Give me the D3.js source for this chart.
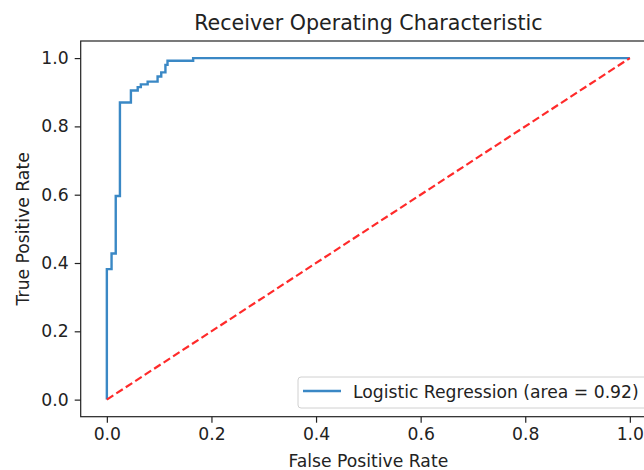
<!DOCTYPE html>
<html>
<head>
<meta charset="utf-8">
<script src="https://cdn.jsdelivr.net/npm/d3@7"></script>
<style>
  html, body { margin: 0; padding: 0; background: #fff; }
  svg { display: block; overflow: hidden; }
  text { font-family: "DejaVu Sans", sans-serif; fill: #222; }
</style>
</head>
<body>
<svg id="chart" width="644" height="470"></svg>
<script>
// ROC curve (step points)
const fpr = [0, 0, 0.009, 0.009, 0.017, 0.017, 0.025, 0.025, 0.046, 0.046, 0.059, 0.059,
  0.065, 0.065, 0.078, 0.078, 0.097, 0.097, 0.104, 0.104, 0.112, 0.112, 0.116, 0.116,
  0.165, 0.165, 1];
const tpr = [0, 0.382, 0.382, 0.428, 0.428, 0.596, 0.596, 0.87, 0.87, 0.905, 0.905, 0.915,
  0.915, 0.923, 0.923, 0.931, 0.931, 0.946, 0.946, 0.958, 0.958, 0.98, 0.98, 0.992,
  0.992, 1, 1];
const chanceX = [0, 1];
const chanceY = [0, 1];
const xTicks = [0, 0.2, 0.4, 0.6, 0.8, 1.0];
const yTicks = [0, 0.2, 0.4, 0.6, 0.8, 1.0];
const legendLabel = 'Logistic Regression (area = 0.92)';

const svg = d3.select('#chart');
const axLeft = 80.7, axRight = 656, axTop = 41, axBottom = 416.7;
const fs = 17.2;

const x = d3.scaleLinear().domain([-0.05, 1.05]).range([axLeft, axRight]);
const y = d3.scaleLinear().domain([-0.05, 1.05]).range([axBottom, axTop]);

// axes
const xAxis = svg.append('g')
  .attr('transform', `translate(0,${axBottom})`)
  .call(d3.axisBottom(x).tickValues(xTicks).tickFormat(d3.format('.1f')).tickSize(6).tickPadding(5));
const yAxis = svg.append('g')
  .attr('transform', `translate(${axLeft},0)`)
  .call(d3.axisLeft(y).tickValues(yTicks).tickFormat(d3.format('.1f')).tickSize(6).tickPadding(6));

[xAxis, yAxis].forEach(g => {
  g.select('.domain').remove();
  g.selectAll('line').attr('stroke', '#222').attr('stroke-width', 1.2);
  g.selectAll('text').attr('font-size', fs).attr('font-family', '"DejaVu Sans", sans-serif').attr('fill', '#222');
});

// lines
const line = d3.line().x(d => x(d[0])).y(d => y(d[1]));

svg.append('path')
  .datum(d3.zip(fpr, tpr))
  .attr('fill', 'none')
  .attr('stroke', '#3a88c5')
  .attr('stroke-width', 2.4)
  .attr('stroke-linejoin', 'miter')
  .attr('d', line);

svg.append('path')
  .datum(d3.zip(chanceX, chanceY))
  .attr('fill', 'none')
  .attr('stroke', '#ff2a2a')
  .attr('stroke-width', 2.2)
  .attr('stroke-dasharray', '7.7,3.6')
  .attr('d', line);

// spines
svg.append('rect')
  .attr('x', axLeft).attr('y', axTop)
  .attr('width', axRight - axLeft).attr('height', axBottom - axTop)
  .attr('fill', 'none')
  .attr('stroke', '#222')
  .attr('stroke-width', 1.2);

// legend
const lg = svg.append('g');
lg.append('rect')
  .attr('x', 298).attr('y', 377)
  .attr('width', 351).attr('height', 31)
  .attr('rx', 3)
  .attr('fill', '#fff').attr('fill-opacity', 0.8)
  .attr('stroke', '#d0d0d0');
lg.append('line')
  .attr('x1', 303).attr('x2', 341)
  .attr('y1', 391).attr('y2', 391)
  .attr('stroke', '#3a88c5').attr('stroke-width', 2.4);
lg.append('text')
  .attr('x', 353).attr('y', 392)
  .attr('dy', '0.35em')
  .attr('font-size', fs)
  .text(legendLabel);

// titles
svg.append('text')
  .attr('x', (axLeft + axRight) / 2).attr('y', 30)
  .attr('text-anchor', 'middle')
  .attr('font-size', 20.6)
  .text('Receiver Operating Characteristic');

svg.append('text')
  .attr('x', (axLeft + axRight) / 2).attr('y', 467)
  .attr('text-anchor', 'middle')
  .attr('font-size', fs)
  .text('False Positive Rate');

svg.append('text')
  .attr('transform', `translate(29,${(axTop + axBottom) / 2}) rotate(-90)`)
  .attr('text-anchor', 'middle')
  .attr('font-size', fs)
  .text('True Positive Rate');
</script>
</body>
</html>
